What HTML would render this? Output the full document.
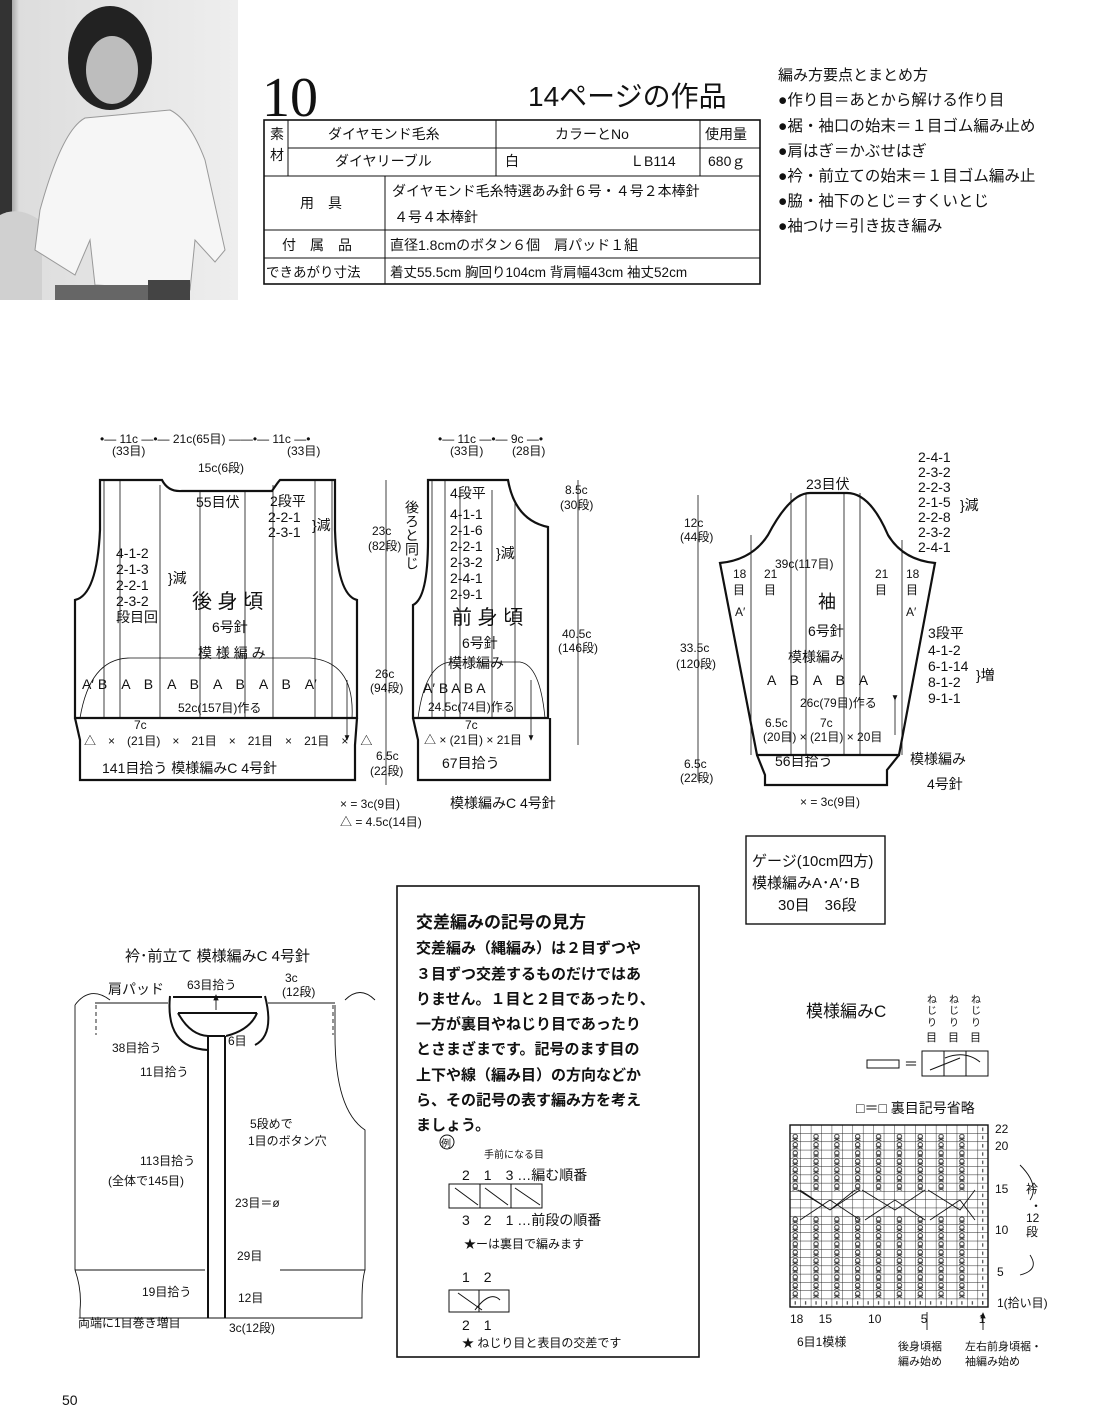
<!DOCTYPE html>
<html><head><meta charset="utf-8">
<style>
html,body{margin:0;padding:0;background:#fff;}
body{width:1100px;height:1420px;position:relative;overflow:hidden;font-family:"Liberation Sans","Noto Sans CJK JP",sans-serif;color:#111;}
svg{position:absolute;left:0;top:0;}
svg text{font-family:"Liberation Sans","Noto Sans CJK JP",sans-serif;fill:#111;}
.t{font-size:14px}
.s{font-size:12px}
.l{font-size:17px}
</style></head><body>
<svg width="1100" height="1420" viewBox="0 0 1100 1420">
<defs>
<linearGradient id="bg" x1="0" y1="0" x2="1" y2="0">
<stop offset="0" stop-color="#555"/><stop offset="0.08" stop-color="#ddd"/><stop offset="1" stop-color="#eee"/>
</linearGradient>
<pattern id="grid" x="790" y="1125" width="10.42" height="8.27" patternUnits="userSpaceOnUse">
<path d="M0 0H10.42M0 0V8.27" stroke="#222" stroke-width="0.9" fill="none"/>
</pattern>
<pattern id="tw" x="790" y="1125" width="20.84" height="8.27" patternUnits="userSpaceOnUse">
<ellipse cx="5.2" cy="3" rx="2.2" ry="2" fill="none" stroke="#222" stroke-width="0.9"/>
<path d="M2.5 7.5 L7.9 5 M2.5 5 L7.9 7.5" stroke="#222" stroke-width="0.8"/>
</pattern>
<pattern id="dash" x="790" y="1125" width="10.42" height="8.27" patternUnits="userSpaceOnUse">
<path d="M5.2 2.5V6" stroke="#222" stroke-width="1"/>
</pattern>
<marker id="ar" markerWidth="8" markerHeight="8" refX="6" refY="4" orient="auto"><path d="M0 1L7 4L0 7z" fill="#111"/></marker>
</defs>

<!-- photo -->
<rect x="0" y="0" width="238" height="300" fill="url(#bg)"/>
<rect x="0" y="0" width="12" height="300" fill="#333"/>
<path d="M0 215 Q20 205 42 222 L42 300 L0 300Z" fill="#d0d0d0"/>
<path d="M85 118 Q62 130 40 210 L35 250 L75 275 L90 240 L95 285 L190 290 L195 240 L215 262 L225 250 L205 160 Q190 120 170 110 Z" fill="#f6f6f6" stroke="#999"/>
<ellipse cx="110" cy="58" rx="42" ry="52" fill="#222"/>
<ellipse cx="112" cy="70" rx="26" ry="34" fill="#bdbdbd"/>
<rect x="148" y="280" width="42" height="20" fill="#444"/>
<rect x="55" y="285" width="93" height="15" fill="#666"/>

<!-- header -->
<text x="262" y="116" style="font-family:'Liberation Serif',serif;font-size:56px">10</text>
<text x="528" y="106" style="font-size:28px">14ページの作品</text>

<g stroke="#111" fill="none">
<rect x="264" y="120" width="496" height="164" stroke-width="1.6"/>
<path d="M288 120V176M496 120V176M700 120V176M288 148H760M264 176H760M385 176V284M264 230H760M264 258H760" stroke-width="1"/>
</g>
<text x="270" y="139" class="t">素</text><text x="270" y="160" class="t">材</text>
<text x="328" y="139" class="t">ダイヤモンド毛糸</text>
<text x="555" y="139" class="t">カラーとNo</text>
<text x="705" y="139" class="t">使用量</text>
<text x="335" y="166" class="t">ダイヤリーブル</text>
<text x="505" y="166" class="t">白</text>
<text x="630" y="166" class="t">ＬB114</text>
<text x="708" y="166" class="t">680ｇ</text>
<text x="300" y="208" class="t">用　具</text>
<text x="392" y="196" class="t">ダイヤモンド毛糸特選あみ針６号・４号２本棒針</text>
<text x="394" y="222" class="t">４号４本棒針</text>
<text x="282" y="250" class="t">付　属　品</text>
<text x="390" y="250" class="t">直径1.8cmのボタン６個　肩パッド１組</text>
<text x="266" y="277" class="t" style="font-size:13.5px">できあがり寸法</text>
<text x="390" y="277" class="t" style="font-size:13.5px">着丈55.5cm 胸回り104cm 背肩幅43cm 袖丈52cm</text>

<text x="778" y="80" class="t" style="font-size:15px">編み方要点とまとめ方</text>
<text x="778" y="105" style="font-size:15.5px">●作り目＝あとから解ける作り目</text>
<text x="778" y="131" style="font-size:15.5px">●裾・袖口の始末＝１目ゴム編み止め</text>
<text x="778" y="156" style="font-size:15.5px">●肩はぎ＝かぶせはぎ</text>
<text x="778" y="181" style="font-size:15.5px">●衿・前立ての始末＝１目ゴム編み止</text>
<text x="778" y="206" style="font-size:15.5px">●脇・袖下のとじ＝すくいとじ</text>
<text x="778" y="231" style="font-size:15.5px">●袖つけ＝引き抜き編み</text>

<!-- BACK -->
<g fill="none" stroke="#111">
<path d="M100 480 H162 Q168 492 182 491 H272 Q278 482 280 480 H335 V530 Q337 595 357 600 V718 H75 V600 Q97 595 100 530 Z" stroke-width="2.2"/>
<path d="M75 718 L80 740 V780 H355 V745 L357 718" stroke-width="2.2"/>
<g stroke-width="0.8">
<path d="M104 480V718M120 480V718M160 485V718M200 491V718M245 491V718M273 485V718M315 480V718M332 480V718"/>
<path d="M80 718 Q90 658 130 658 H310 Q355 662 352 718"/>
<path d="M347 680V740" marker-end="url(#ar)"/>
</g>
</g>
<text x="100" y="443" class="s">•— 11c —•— 21c(65目) ——•— 11c —•</text>
<text x="112" y="455" class="s">(33目)</text><text x="287" y="455" class="s">(33目)</text>
<text x="198" y="472" class="s">15c(6段)</text>
<text x="196" y="507" class="t">55目伏</text>
<text x="270" y="506" class="t">2段平</text>
<text x="268" y="522" class="t">2-2-1</text><text x="268" y="537" class="t">2-3-1</text><text x="312" y="530" class="t">}減</text>
<text x="116" y="558" class="t">4-1-2</text><text x="116" y="574" class="t">2-1-3</text><text x="116" y="590" class="t">2-2-1</text><text x="116" y="606" class="t">2-3-2</text><text x="116" y="622" class="t">段目回</text>
<text x="168" y="583" class="t">}減</text>
<text x="192" y="608" style="font-size:20px">後 身 頃</text>
<text x="212" y="632" class="t">6号針</text>
<text x="198" y="658" class="t">模 様 編 み</text>
<text x="82" y="689" class="t">A′ B　A　B　A　B　A　B　A　B　A′</text>
<text x="178" y="712" class="s">52c(157目)作る</text>
<text x="134" y="729" class="s">7c</text>
<text x="84" y="745" class="s">△　×　(21目)　×　21目　×　21目　×　21目　×　△</text>
<text x="102" y="773" class="t">141目拾う 模様編みC 4号針</text>

<!-- dims middle -->
<g stroke="#111" stroke-width="0.8"><path d="M386 480V785"/></g>
<text x="372" y="535" class="s">23c</text><text x="368" y="550" class="s">(82段)</text>
<text x="375" y="678" class="s">26c</text><text x="370" y="692" class="s">(94段)</text>
<text x="376" y="760" class="s">6.5c</text><text x="370" y="775" class="s">(22段)</text>
<text x="340" y="808" class="s">× = 3c(9目)</text>
<text x="340" y="826" class="s">△ = 4.5c(14目)</text>

<!-- FRONT -->
<g fill="none" stroke="#111">
<path d="M428 480 H508 Q515 520 548 527 V718 H413 V605 Q428 598 428 540 Z" stroke-width="2.2"/>
<path d="M413 718 L418 740 V780 H550 V718" stroke-width="2.2"/>
<g stroke-width="0.8">
<path d="M432 480V718M445 480V718M460 490V718M492 490V718M515 500V718"/>
<path d="M418 718 Q425 665 450 662 H520 Q540 665 545 718"/>
<path d="M531 680V740" marker-end="url(#ar)"/>
<path d="M578 480V745"/>
</g>
</g>
<text x="438" y="443" class="s">•— 11c —•— 9c —•</text>
<text x="450" y="455" class="s">(33目)</text><text x="512" y="455" class="s">(28目)</text>
<text x="412" y="500" class="t" style="writing-mode:tb">後ろと同じ</text>
<text x="450" y="498" class="t">4段平</text>
<text x="450" y="519" class="t">4-1-1</text><text x="450" y="535" class="t">2-1-6</text><text x="450" y="551" class="t">2-2-1</text><text x="450" y="567" class="t">2-3-2</text><text x="450" y="583" class="t">2-4-1</text><text x="450" y="599" class="t">2-9-1</text>
<text x="496" y="558" class="t">}減</text>
<text x="452" y="624" style="font-size:20px">前 身 頃</text>
<text x="462" y="648" class="t">6号針</text>
<text x="448" y="668" class="t">模様編み</text>
<text x="423" y="693" class="t">A′ B A B A</text>
<text x="428" y="711" class="s">24.5c(74目)作る</text>
<text x="465" y="729" class="s">7c</text>
<text x="424" y="744" class="s">△ × (21目) × 21目</text>
<text x="442" y="768" class="t">67目拾う</text>
<text x="450" y="808" class="t">模様編みC 4号針</text>
<text x="565" y="494" class="s">8.5c</text><text x="560" y="509" class="s">(30段)</text>
<text x="562" y="638" class="s">40.5c</text><text x="558" y="652" class="s">(146段)</text>

<!-- SLEEVE -->
<g fill="none" stroke="#111">
<path d="M720 563 Q752 560 768 535 Q790 493 810 493 H847 Q870 493 888 535 Q903 560 935 563 L899 755 H757 Z" stroke-width="2.2"/>
<path d="M757 755 L765 775 V785 H887 V770 L899 755" stroke-width="2.2"/>
<g stroke-width="0.8">
<path d="M751 535V755M791 493V755M806 493V755M844 493V755M860 493V755M902 540V755"/>
<path d="M698 495V780"/>
<path d="M895 700V735" marker-start="url(#ar)"/>
</g>
</g>
<text x="806" y="489" class="t">23目伏</text>
<text x="918" y="462" class="t">2-4-1</text><text x="918" y="477" class="t">2-3-2</text><text x="918" y="492" class="t">2-2-3</text><text x="918" y="507" class="t">2-1-5</text><text x="918" y="522" class="t">2-2-8</text><text x="918" y="537" class="t">2-3-2</text><text x="918" y="552" class="t">2-4-1</text>
<text x="960" y="510" class="t">}減</text>
<text x="775" y="568" class="s">39c(117目)</text>
<text x="733" y="578" class="s">18</text><text x="764" y="578" class="s">21</text><text x="875" y="578" class="s">21</text><text x="906" y="578" class="s">18</text>
<text x="733" y="594" class="s">目</text><text x="764" y="594" class="s">目</text><text x="875" y="594" class="s">目</text><text x="906" y="594" class="s">目</text>
<text x="735" y="616" class="s">A′</text><text x="906" y="616" class="s">A′</text>
<text x="818" y="608" style="font-size:18px">袖</text>
<text x="808" y="636" class="t">6号針</text>
<text x="788" y="662" class="t">模様編み</text>
<text x="767" y="685" class="t">A　B　A　B　A</text>
<text x="800" y="707" class="s">26c(79目)作る</text>
<text x="765" y="727" class="s">6.5c</text><text x="820" y="727" class="s">7c</text>
<text x="763" y="741" class="s">(20目) × (21目) × 20目</text>
<text x="775" y="766" class="t">56目拾う</text>
<text x="910" y="764" class="t">模様編み</text>
<text x="927" y="789" class="t">4号針</text>
<text x="800" y="806" class="s">× = 3c(9目)</text>
<text x="928" y="638" class="t">3段平</text>
<text x="928" y="655" class="t">4-1-2</text><text x="928" y="671" class="t">6-1-14</text><text x="928" y="687" class="t">8-1-2</text><text x="928" y="703" class="t">9-1-1</text>
<text x="976" y="680" class="t">}増</text>
<text x="684" y="527" class="s">12c</text><text x="680" y="541" class="s">(44段)</text>
<text x="680" y="652" class="s">33.5c</text><text x="676" y="668" class="s">(120段)</text>
<text x="684" y="768" class="s">6.5c</text><text x="680" y="782" class="s">(22段)</text>

<!-- gauge -->
<rect x="746" y="836" width="139" height="88" fill="none" stroke="#111" stroke-width="1.4"/>
<text x="752" y="866" style="font-size:15px">ゲージ(10cm四方)</text>
<text x="752" y="888" style="font-size:15px">模様編みA･A′･B</text>
<text x="778" y="910" style="font-size:15px">30目　36段</text>

<!-- collar diagram -->
<text x="125" y="961" style="font-size:15px">衿･前立て 模様編みC 4号針</text>
<g fill="none" stroke="#111">
<g stroke-width="0.9">
<path d="M75 1130 V1005"/>
<path d="M95 1003 H168 M268 1003 H335 M335 1005 V1035 Q335 1110 365 1130 V1270"/>
<path d="M75 1270 Q82 1290 80 1310 V1318 H362 V1300 Q362 1280 365 1270 H280 M75 1270 H205 M75 1130 V1270"/>
<path d="M96 1005 V1035 M333 1005 V1035" stroke-dasharray="4 3"/>
<path d="M75 1005 Q90 985 110 1000 M345 1000 Q360 985 375 1000"/>
</g>
<path d="M173 997 H262 M178 1013 H257" stroke-width="2"/>
<path d="M170 996 Q165 1048 208 1050 M178 1013 Q190 1035 208 1036 M265 996 Q275 1035 255 1045 M257 1013 Q250 1030 226 1036" stroke-width="2"/>
<path d="M208 1036 V1318 M225 1036 V1318 M208 1036 H225" stroke-width="2"/>
<path d="M216 1010 V995" stroke-width="0.9" marker-end="url(#ar)"/>
</g>
<text x="108" y="994" class="t">肩パッド</text>
<text x="187" y="989" class="s">63目拾う</text>
<text x="285" y="982" class="s">3c</text><text x="282" y="996" class="s">(12段)</text>
<text x="228" y="1045" class="s">6目</text>
<text x="112" y="1052" class="s">38目拾う</text>
<text x="140" y="1076" class="s">11目拾う</text>
<text x="250" y="1128" class="s">5段めで</text>
<text x="248" y="1145" class="s">1目のボタン穴</text>
<text x="140" y="1165" class="s">113目拾う</text>
<text x="108" y="1185" class="s">(全体で145目)</text>
<text x="235" y="1207" class="s">23目＝ø</text>
<text x="237" y="1260" class="s">29目</text>
<text x="142" y="1296" class="s">19目拾う</text>
<text x="238" y="1302" class="s">12目</text>
<text x="78" y="1327" class="s">両端に1目巻き増目</text>
<text x="229" y="1332" class="s">3c(12段)</text>

<!-- explanation box -->
<rect x="397" y="886" width="302" height="471" fill="none" stroke="#111" stroke-width="1.6"/>
<text x="416" y="928" style="font-size:17px;font-weight:bold">交差編みの記号の見方</text>
<g style="font-size:15px;font-weight:bold">
<text x="416" y="953">交差編み（縄編み）は２目ずつや</text>
<text x="416" y="979">３目ずつ交差するものだけではあ</text>
<text x="416" y="1004">りません。１目と２目であったり、</text>
<text x="416" y="1029">一方が裏目やねじり目であったり</text>
<text x="416" y="1054">とさまざまです。記号のます目の</text>
<text x="416" y="1080">上下や線（編み目）の方向などか</text>
<text x="416" y="1105">ら、その記号の表す編み方を考え</text>
<text x="416" y="1130">ましょう。</text>
</g>
<circle cx="447" cy="1142" r="7" fill="none" stroke="#111"/><text x="441" y="1147" style="font-size:10px">例</text>
<text x="484" y="1158" style="font-size:10px">手前になる目</text>
<text x="462" y="1180" class="t">2　1　3 …編む順番</text>
<rect x="449" y="1184" width="93" height="24" fill="none" stroke="#111"/>
<path d="M480 1184V1208M511 1184V1208M455 1188L478 1205M485 1188L508 1205M515 1188L540 1205" stroke="#111"/>
<text x="462" y="1225" class="t">3　2　1 …前段の順番</text>
<text x="464" y="1248" class="s">★ーは裏目で編みます</text>
<text x="462" y="1282" class="t">1　2</text>
<rect x="449" y="1290" width="60" height="22" fill="none" stroke="#111"/>
<path d="M479 1290V1312M458 1293L482 1310M475 1310Q490 1290 500 1300" stroke="#111" fill="none"/>
<text x="462" y="1330" class="t">2　1</text>
<text x="462" y="1347" class="s">★ ねじり目と表目の交差です</text>

<!-- pattern C -->
<text x="806" y="1017" style="font-size:17px">模様編みC</text>
<text x="927" y="1003" style="font-size:10px">ね</text><text x="949" y="1003" style="font-size:10px">ね</text><text x="971" y="1003" style="font-size:10px">ね</text>
<text x="927" y="1014" style="font-size:10px">じ</text><text x="949" y="1014" style="font-size:10px">じ</text><text x="971" y="1014" style="font-size:10px">じ</text>
<text x="927" y="1026" style="font-size:10px">り</text><text x="949" y="1026" style="font-size:10px">り</text><text x="971" y="1026" style="font-size:10px">り</text>
<text x="926" y="1041" style="font-size:11px">目</text><text x="948" y="1041" style="font-size:11px">目</text><text x="970" y="1041" style="font-size:11px">目</text>
<rect x="867" y="1060" width="32" height="8" fill="none" stroke="#111"/>
<text x="904" y="1069" class="t">＝</text>
<rect x="922" y="1051" width="66" height="25" fill="none" stroke="#111"/>
<path d="M944 1051V1076M966 1051V1076M930 1070L960 1058M945 1058Q965 1050 980 1062" stroke="#111" fill="none"/>
<text x="856" y="1113" class="t">□＝□ 裏目記号省略</text>

<rect x="790" y="1125" width="198" height="182" fill="url(#grid)" stroke="#111" stroke-width="1.4"/>
<rect x="790" y="1133" width="188" height="58" fill="url(#tw)"/>
<rect x="790" y="1216" width="188" height="83" fill="url(#tw)"/>
<rect x="978" y="1125" width="10.4" height="182" fill="url(#dash)"/>
<rect x="790" y="1299" width="198" height="8" fill="url(#dash)"/>
<g stroke="#111" stroke-width="0.9" fill="none">
<path d="M798 1190 L830 1210 L860 1190 M855 1190 L830 1210 L800 1190 M862 1190 L895 1210 L925 1190 M928 1190 L960 1210 L975 1190"/>
<path d="M800 1220 L830 1200 L860 1220 M865 1220 L895 1200 L925 1220 M930 1220 L960 1200 L975 1220"/>
<path d="M1020 1165 Q1040 1185 1030 1200 M1030 1255 Q1040 1270 1020 1275"/>
<path d="M927 1330 V1312 M983 1330 V1313" marker-end="url(#ar)"/>
</g>
<text x="995" y="1133" class="s">22</text><text x="995" y="1150" class="s">20</text>
<text x="995" y="1193" class="s">15</text><text x="1026" y="1193" class="s">衿</text>
<text x="1030" y="1210" class="s">・</text><text x="1026" y="1222" class="s">12</text><text x="1026" y="1236" class="s">段</text>
<text x="995" y="1234" class="s">10</text>
<text x="997" y="1276" class="s">5</text>
<text x="997" y="1307" class="s">1(拾い目)</text>
<text x="790" y="1323" class="s">18　 15　　　10　　　 5　　　　 1</text>
<text x="797" y="1346" class="s">6目1模様</text>
<text x="898" y="1350" style="font-size:11px">後身頃裾</text>
<text x="898" y="1365" style="font-size:11px">編み始め</text>
<text x="965" y="1350" style="font-size:11px">左右前身頃裾・</text>
<text x="965" y="1365" style="font-size:11px">袖編み始め</text>

<text x="62" y="1405" class="t">50</text>
</svg>
</body></html>
